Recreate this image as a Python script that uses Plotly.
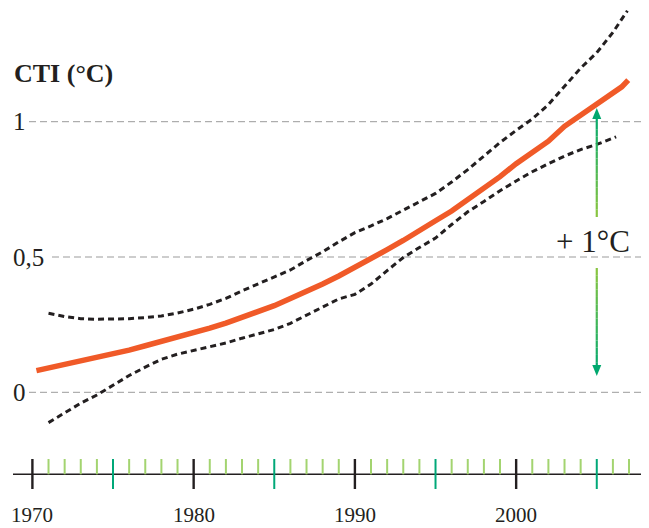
import plotly.graph_objects as go

# ---------------- data ----------------
cti_years = [1970.25, 1971, 1972, 1973, 1974, 1975, 1976, 1977, 1978, 1979,
             1980, 1981, 1982, 1983, 1984, 1985, 1986, 1987, 1988, 1989,
             1990, 1991, 1992, 1993, 1994, 1995, 1996, 1997, 1998, 1999,
             2000, 2001, 2002, 2003, 2004, 2005, 2006, 2006.55, 2006.95]
cti_values = [0.080, 0.090, 0.102, 0.113, 0.126, 0.141, 0.156, 0.172, 0.188, 0.204,
              0.218, 0.237, 0.256, 0.276, 0.300, 0.320, 0.347, 0.372, 0.400, 0.430,
              0.461, 0.493, 0.527, 0.561, 0.600, 0.634, 0.670, 0.712, 0.750, 0.797,
              0.845, 0.885, 0.928, 0.983, 1.023, 1.062, 1.103, 1.129, 1.154]

upper_years = [1971, 1972, 1973, 1974, 1975, 1976, 1977, 1978, 1979,
               1980, 1981, 1982, 1983, 1984, 1985, 1986, 1987, 1988, 1989,
               1990, 1991, 1992, 1993, 1994, 1995, 1996, 1997, 1998, 1999,
               2000, 2001, 2002, 2003, 2004, 2005, 2006, 2006.9]
upper_values = [0.292, 0.280, 0.272, 0.270, 0.271, 0.272, 0.276, 0.282, 0.293,
                0.307, 0.325, 0.347, 0.375, 0.400, 0.425, 0.452, 0.487, 0.519, 0.556,
                0.590, 0.615, 0.642, 0.673, 0.703, 0.735, 0.777, 0.823, 0.873, 0.923,
                0.968, 1.010, 1.063, 1.130, 1.198, 1.255, 1.330, 1.410]

lower_years = [1971, 1972, 1973, 1974, 1975, 1976, 1977, 1978, 1979,
               1980, 1981, 1982, 1983, 1984, 1985, 1986, 1987, 1988, 1989,
               1990, 1991, 1992, 1993, 1994, 1995, 1996, 1997, 1998, 1999,
               2000, 2001, 2002, 2003, 2004, 2005, 2006.2]
lower_values = [-0.112, -0.075, -0.040, -0.010, 0.027, 0.062, 0.093, 0.122, 0.141,
                0.155, 0.167, 0.182, 0.200, 0.216, 0.232, 0.255, 0.285, 0.318, 0.345,
                0.362, 0.400, 0.450, 0.498, 0.535, 0.570, 0.620, 0.667, 0.705, 0.745,
                0.781, 0.815, 0.845, 0.873, 0.897, 0.916, 0.944]

y_tick_values = [0, 0.5, 1]
y_tick_labels = ["0", "0,5", "1"]
x_label_years = [1970, 1980, 1990, 2000]
x_label_text = ["1970", "1980", "1990", "2000"]
tick_years = list(range(1970, 2008))
arrow_year = 2005
arrow_from = 0.0
arrow_to = 1.0
arrow_text = "+ 1°C"
y_title = "CTI (°C)"

# ---------------- geometry ----------------
OFF = 8  # page body margin
W, H = 649 - OFF, 528 - OFF
PX_1970, PX_PER_YEAR = 32.4 - OFF, 16.125
PY_0, PX_PER_UNIT = 392.3 - OFF, 270.6
x_range = [1970 - PX_1970 / PX_PER_YEAR, 1970 + (W - PX_1970) / PX_PER_YEAR]
y_range = [(PY_0 - H) / PX_PER_UNIT, PY_0 / PX_PER_UNIT]


def vy(py):  # py: pixel row in the 649x528 window
    return (PY_0 - (py - OFF)) / PX_PER_UNIT


def vx(px):  # px: pixel column in the 649x528 window
    return 1970 + ((px - OFF) - PX_1970) / PX_PER_YEAR


def fx(px):
    return (px - OFF) / W


FONT = "Liberation Serif"
TXT = "#231f20"

fig = go.Figure()

fig.add_trace(go.Scatter(x=upper_years, y=upper_values, mode="lines",
                         line=dict(color="#231f20", width=3, dash="6px,4px"),
                         hoverinfo="skip", showlegend=False))
fig.add_trace(go.Scatter(x=lower_years, y=lower_values, mode="lines",
                         line=dict(color="#231f20", width=3, dash="6px,4px"),
                         hoverinfo="skip", showlegend=False))
fig.add_trace(go.Scatter(x=cti_years, y=cti_values, mode="lines",
                         line=dict(color="#f05a28", width=5.5, shape="linear"),
                         hoverinfo="skip", showlegend=False))

shapes = []
# dashed gridlines starting after the labels
grid_start_px = {0: 29, 0.5: 52, 1: 29}
for v in y_tick_values:
    shapes.append(dict(type="line", xref="x", yref="y",
                       x0=vx(grid_start_px[v]), x1=x_range[1], y0=v, y1=v,
                       line=dict(color="#9b9b9b", width=1, dash="7px,4px"), layer="below"))

# bottom time axis
axis_y = vy(474.3)
top_y = vy(459)
bot_y = vy(489)
shapes.append(dict(type="line", xref="x", yref="y", x0=vx(13), x1=vx(644),
                   y0=axis_y, y1=axis_y, line=dict(color="#231f20", width=1.6)))
for yr in tick_years:
    if yr % 10 == 0:
        shapes.append(dict(type="line", xref="x", yref="y", x0=yr, x1=yr, y0=top_y, y1=bot_y,
                           line=dict(color="#231f20", width=2.4)))
    elif yr % 5 == 0:
        shapes.append(dict(type="line", xref="x", yref="y", x0=yr, x1=yr, y0=top_y, y1=bot_y,
                           line=dict(color="#00a878", width=2)))
    else:
        shapes.append(dict(type="line", xref="x", yref="y", x0=yr, x1=yr, y0=top_y, y1=axis_y,
                           line=dict(color="#a3d470", width=2)))


# green gradient arrow (two halves around the label)
def lerp_col(c1, c2, t):
    return "rgb(%d,%d,%d)" % tuple(round(a + (b - a) * t) for a, b in zip(c1, c2))


light = (141, 198, 63)
teal = (0, 168, 110)
gap_top = vy(217)
gap_bot = vy(268)
tip_top = vy(108)
tip_bot = vy(376)
head_len = 11 / PX_PER_UNIT
head_half = 4.5 / PX_PER_YEAR
n = 14
for (start, end) in [(gap_top, tip_top - head_len * 0.6), (gap_bot, tip_bot + head_len * 0.6)]:
    for i in range(n):
        a = start + (end - start) * i / n
        b = start + (end - start) * (i + 1) / n
        shapes.append(dict(type="line", xref="x", yref="y", x0=arrow_year, x1=arrow_year,
                           y0=a, y1=b, line=dict(color=lerp_col(light, teal, (i + 0.5) / n), width=2.2)))
shapes.append(dict(type="path", xref="x", yref="y",
                   path=f"M {arrow_year - head_half} {tip_top - head_len} L {arrow_year} {tip_top} "
                        f"L {arrow_year + head_half} {tip_top - head_len} Z",
                   fillcolor="rgb(0,168,110)", line=dict(width=0)))
shapes.append(dict(type="path", xref="x", yref="y",
                   path=f"M {arrow_year - head_half} {tip_bot + head_len} L {arrow_year} {tip_bot} "
                        f"L {arrow_year + head_half} {tip_bot + head_len} Z",
                   fillcolor="rgb(0,168,110)", line=dict(width=0)))

annotations = [
    dict(text=arrow_text, x=vx(592.5), y=vy(241), xref="x", yref="y",
         showarrow=False, xanchor="center", yanchor="middle",
         font=dict(family=FONT, size=31, color=TXT)),
    dict(text=f"<b>{y_title}</b>", x=fx(12), y=vy(73.5), xref="paper", yref="y",
         showarrow=False, xanchor="left", yanchor="middle",
         font=dict(family=FONT, size=26, color=TXT)),
]
for v, t in zip(y_tick_values, y_tick_labels):
    annotations.append(dict(text=t, x=fx(11), y=v, xref="paper", yref="y",
                            showarrow=False, xanchor="left", yanchor="middle",
                            font=dict(family=FONT, size=25, color=TXT)))
for yr, t in zip(x_label_years, x_label_text):
    annotations.append(dict(text=t, x=yr, y=0, xref="x", yref="paper",
                            showarrow=False, xanchor="center", yanchor="bottom",
                            borderpad=0,
                            font=dict(family=FONT, size=21, color=TXT)))

fig.update_layout(
    width=W, height=H,
    margin=dict(l=0, r=0, t=0, b=0),
    paper_bgcolor="white", plot_bgcolor="white",
    xaxis=dict(range=x_range, visible=False, fixedrange=True),
    yaxis=dict(range=y_range, visible=False, fixedrange=True),
    shapes=shapes, annotations=annotations,
    showlegend=False,
)

fig.write_html("out.html")
